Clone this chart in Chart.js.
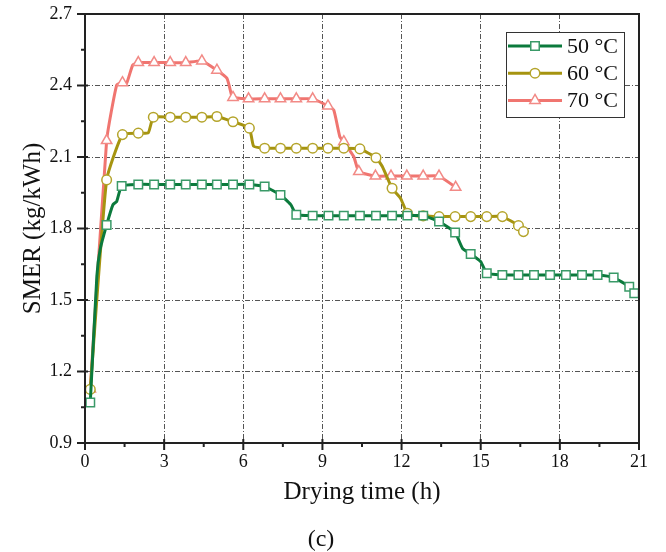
<!DOCTYPE html>
<html><head><meta charset="utf-8">
<script src="https://cdn.jsdelivr.net/npm/chart.js@4/dist/chart.umd.min.js"></script>
<style>html,body{margin:0;padding:0;background:#fff}#wrap{width:666px;height:552px}</style>
</head><body><div id="wrap"><canvas id="c" width="666" height="552"></canvas></div>
<script>
// ---------- data ----------
const xTicks = [0, 3, 6, 9, 12, 15, 18, 21];
const yTicks = [0.9, 1.2, 1.5, 1.8, 2.1, 2.4, 2.7];
const seriesNames = ['50 °C', '60 °C', '70 °C'];

// 50 °C — marker points
const t50 = [0.2, 0.82, 1.39, 2.02, 2.62, 3.23, 3.82, 4.43, 5.0, 5.61, 6.23, 6.81, 7.41, 8.01, 8.63, 9.23, 9.81, 10.42, 11.03, 11.64, 12.22, 12.82, 13.42, 14.03, 14.62, 15.23, 15.82, 16.43, 17.02, 17.63, 18.23, 18.84, 19.43, 20.04, 20.63, 20.82];
const v50 = [1.07, 1.815, 1.978, 1.985, 1.985, 1.985, 1.985, 1.985, 1.985, 1.985, 1.985, 1.976, 1.941, 1.858, 1.854, 1.854, 1.854, 1.854, 1.854, 1.854, 1.854, 1.854, 1.829, 1.783, 1.693, 1.612, 1.605, 1.605, 1.605, 1.605, 1.605, 1.605, 1.605, 1.594, 1.556, 1.528];
// 50 °C — line vertices without a marker
const t50k = [0.45, 0.57, 1.06, 1.2, 7.8, 14.31, 15.0];
const v50k = [1.6, 1.71, 1.9, 1.913, 1.9, 1.717, 1.661];

// 60 °C
const t60 = [0.2, 0.82, 1.42, 2.02, 2.59, 3.23, 3.82, 4.43, 5.0, 5.61, 6.23, 6.81, 7.41, 8.01, 8.63, 9.21, 9.81, 10.42, 11.03, 11.64, 12.22, 12.82, 13.42, 14.03, 14.62, 15.23, 15.82, 16.43, 16.62];
const v60 = [1.125, 2.004, 2.194, 2.2, 2.267, 2.267, 2.267, 2.267, 2.27, 2.248, 2.221, 2.137, 2.137, 2.137, 2.137, 2.137, 2.137, 2.134, 2.097, 1.969, 1.864, 1.853, 1.85, 1.85, 1.85, 1.85, 1.85, 1.812, 1.787];
const t60k = [2.4, 6.39, 11.27, 11.96, 12.55];
const v60k = [2.202, 2.146, 2.06, 1.927, 1.853];

// 70 °C
const t70 = [0.2, 0.82, 1.42, 2.02, 2.62, 3.23, 3.82, 4.43, 5.0, 5.61, 6.2, 6.81, 7.41, 8.01, 8.63, 9.21, 9.81, 10.38, 11.01, 11.6, 12.2, 12.82, 13.42, 14.05];
const v70 = [1.127, 2.169, 2.412, 2.496, 2.496, 2.496, 2.496, 2.503, 2.464, 2.35, 2.344, 2.344, 2.344, 2.344, 2.344, 2.314, 2.164, 2.039, 2.02, 2.02, 2.02, 2.02, 2.02, 1.973];
const t70k = [1.2, 1.58, 1.81, 5.38, 5.57, 9.43, 9.66, 10.19];
const v70k = [2.402, 2.41, 2.486, 2.43, 2.353, 2.297, 2.185, 2.101];

// ---------- build ----------
function build(t, v, tk, vk) {
  const pts = t.map((x, i) => ({x: x, y: v[i], m: true}))
    .concat(tk.map((x, i) => ({x: x, y: vk[i], m: false})));
  pts.sort((a, b) => a.x - b.x);
  return pts;
}
const styles = [
  {line: '#0b7a3c', mk: '#3a9a68', ps: 'rect', r: 6},
  {line: '#a69410', mk: '#b4a42a', ps: 'circle', r: 4.8},
  {line: '#f07570', mk: '#f28a86', ps: 'triangle', r: 6}
];
const raw = [[t50, v50, t50k, v50k], [t60, v60, t60k, v60k], [t70, v70, t70k, v70k]];
const datasets = raw.map((r, i) => ({
  label: seriesNames[i],
  data: build(r[0], r[1], r[2], r[3]),
  borderColor: styles[i].line,
  borderWidth: 3,
  tension: 0.15,
  fill: false,
  pointStyle: styles[i].ps,
  pointRadius: c => (c.raw && c.raw.m) ? styles[i].r : 0,
  pointHoverRadius: c => (c.raw && c.raw.m) ? styles[i].r : 0,
  pointBackgroundColor: '#ffffff',
  pointBorderColor: styles[i].mk,
  pointBorderWidth: 1.5,
  clip: false
}));

const FONT = "'Liberation Serif', 'Times New Roman', serif";

function drawMarker(ctx, st, x, y) {
  ctx.save();
  ctx.fillStyle = '#fff';
  ctx.strokeStyle = st.mk;
  ctx.lineWidth = 1.5;
  if (Chart.helpers && Chart.helpers.drawPoint) {
    Chart.helpers.drawPoint(ctx, {pointStyle: st.ps, radius: st.r, rotation: 0, borderWidth: 1.5}, x, y);
  }
  ctx.restore();
}

const framePlugin = {
  id: 'frame',
  afterDatasetsDraw(chart) {
    const {ctx, chartArea: a, scales} = chart;
    const xs = scales.x, ys = scales.y;
    ctx.save();
    ctx.strokeStyle = '#222';
    ctx.lineWidth = 2;
    ctx.strokeRect(a.left, a.top, a.right - a.left, a.bottom - a.top);
    ctx.lineWidth = 2;
    // x ticks
    xTicks.forEach((t, i) => {
      const px = xs.getPixelForValue(t);
      ctx.beginPath(); ctx.moveTo(px, a.bottom - 4); ctx.lineTo(px, a.bottom + 7); ctx.stroke();
      if (i < xTicks.length - 1) {
        const mx = xs.getPixelForValue((t + xTicks[i + 1]) / 2);
        ctx.beginPath(); ctx.moveTo(mx, a.bottom); ctx.lineTo(mx, a.bottom + 4); ctx.stroke();
      }
    });
    yTicks.forEach((t, i) => {
      const py = ys.getPixelForValue(t);
      ctx.beginPath(); ctx.moveTo(a.left - 8, py); ctx.lineTo(a.left + 3, py); ctx.stroke();
      if (i < yTicks.length - 1) {
        const my = ys.getPixelForValue((t + yTicks[i + 1]) / 2);
        ctx.beginPath(); ctx.moveTo(a.left - 4, my); ctx.lineTo(a.left, my); ctx.stroke();
      }
    });
    // legend
    const bx = a.right - 133, by = a.top + 18, bw = 118, bh = 85;
    ctx.fillStyle = '#fff';
    ctx.fillRect(bx, by, bw, bh);
    ctx.lineWidth = 1;
    ctx.strokeStyle = '#333';
    ctx.strokeRect(bx + 0.5, by + 0.5, bw, bh);
    seriesNames.forEach((n, i) => {
      const st = styles[i];
      const y = by + 14 + i * 27.2;
      ctx.strokeStyle = st.line; ctx.lineWidth = 3;
      ctx.beginPath(); ctx.moveTo(bx + 2, y); ctx.lineTo(bx + 56, y); ctx.stroke();
      drawMarker(ctx, st, bx + 29, y);
      ctx.fillStyle = '#111';
      ctx.font = '22px ' + FONT;
      ctx.textBaseline = 'middle';
      ctx.textAlign = 'left';
      ctx.fillText(n, bx + 61, y + 1);
    });
    // panel label
    ctx.fillStyle = '#111';
    ctx.font = '24px ' + FONT;
    ctx.textAlign = 'center';
    ctx.textBaseline = 'middle';
    ctx.fillText('(c)', 321, 540);
    ctx.restore();
  }
};

new Chart(document.getElementById('c'), {
  type: 'line',
  data: {datasets: datasets},
  options: {
    responsive: false,
    animation: false,
    devicePixelRatio: 1,
    layout: {padding: {top: 14, right: 27, left: 0, bottom: 0}},
    plugins: {legend: {display: false}, tooltip: {enabled: false}},
    scales: {
      x: {
        type: 'linear', min: 0, max: 21,
        afterFit: s => { s.height = 109; s.paddingLeft = 0; s.paddingRight = 0; s.paddingTop = 0; s.paddingBottom = 0; },
        afterBuildTicks: s => { s.ticks = xTicks.map(v => ({value: v})); },
        ticks: {font: {family: FONT, size: 18}, color: '#111', padding: 8, maxRotation: 0, autoSkip: false},
        grid: {color: '#555', lineWidth: 1, drawTicks: false},
        border: {display: false, dash: [5, 2, 1, 2]},
        title: {display: true, text: 'Drying time (h)', font: {family: FONT, size: 25}, color: '#111', padding: {top: 0, bottom: 45}}
      },
      y: {
        type: 'linear', min: 0.9, max: 2.7,
        afterFit: s => { s.width = 85; s.paddingTop = 0; s.paddingBottom = 0; s.paddingLeft = 0; s.paddingRight = 0; },
        afterBuildTicks: s => { s.ticks = yTicks.map(v => ({value: v})); },
        ticks: {font: {family: FONT, size: 18}, color: '#111', padding: 13, callback: v => Number(v).toFixed(1)},
        grid: {color: '#555', lineWidth: 1, drawTicks: false},
        border: {display: false, dash: [5, 2, 1, 2]},
        title: {display: true, text: 'SMER (kg/kWh)', font: {family: FONT, size: 25}, color: '#111', padding: {top: 18, bottom: 0}}
      }
    }
  },
  plugins: [framePlugin]
});
</script></body></html>
